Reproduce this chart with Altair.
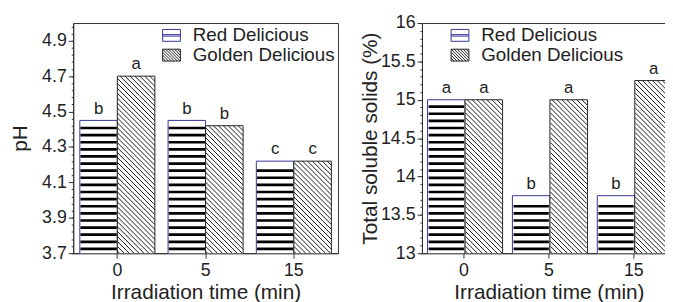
import altair as alt
import pandas as pd

# ---------------- data ----------------
times = ["0", "5", "15"]
varieties = ["Red Delicious", "Golden Delicious"]

ph_red = [4.45, 4.45, 4.22]
ph_golden = [4.70, 4.42, 4.22]
ph_red_letters = ["b", "b", "c"]
ph_golden_letters = ["a", "b", "c"]

tss_red = [15.0, 13.75, 13.75]
tss_golden = [15.0, 15.0, 15.25]
tss_red_letters = ["a", "b", "b"]
tss_golden_letters = ["a", "a", "a"]

ph_ticks = [3.7, 3.9, 4.1, 4.3, 4.5, 4.7, 4.9]
tss_ticks = [13, 13.5, 14, 14.5, 15, 15.5, 16]

# ---------------- style ----------------
FONT = "Liberation Sans"
TXT = "#222222"
AX = "#333333"
NAVY = "#34349c"
GOLD_STROKE = "#222222"
PLOT_H = 233
PAGE_W, PAGE_H = 665, 294
PAD_L, PAD_T = 66, 12


def stripe_path(w, h, P=7.2, T=2.7, A=3.0):
    """horizontal black stripes, path in pixels around the bar centre"""
    x0, x1 = -w / 2 + 0.6, w / 2 - 0.6
    parts = []
    d = A
    while d + T < h - 2.5:
        yb = h / 2 - d
        yt = yb - T
        parts.append(f"M{x0:.2f},{yt:.2f}H{x1:.2f}V{yb:.2f}H{x0:.2f}Z")
        d += P
    return "".join(parts) or "M0,0"


def hatch_path(w, h, p=5.0, phase=2.0):
    """diagonal '\\' hatch lines, path in pixels around the bar centre"""
    hw, hh = w / 2, h / 2
    parts = []
    c = -hw - hh + phase
    while c < hw + hh:
        xa = max(-hw, c - hh)
        xb = min(hw, c + hh)
        if xb - xa > 0.3:
            parts.append(f"M{xa:.2f},{xa - c:.2f}L{xb:.2f},{xb - c:.2f}")
        c += p
    return "".join(parts) or "M0,0"


def legend_paths():
    red = "M-1.5,-1H1.5V1H-1.5ZM-1.5,-0.12H1.5M-1.5,0.12H1.5"
    gold = "M-1.5,-1H1.5V1H-1.5Z"
    c = -2.0
    while c < 2.5:
        xa = max(-1.5, c - 1)
        xb = min(1.5, c + 1)
        gold += f"M{xa:.3f},{xa - c:.3f}L{xb:.3f},{xb - c:.3f}"
        c += 0.5
    return [red, gold]


def panel(red, gold, red_let, gold_let, lo, hi, ytitle, majors, minor_step,
          width, pi, po, leg_x, leg_y, title_pad, label_fmt):
    df = pd.DataFrame({
        "time": times * 2,
        "variety": [varieties[0]] * 3 + [varieties[1]] * 3,
        "value": red + gold,
        "letter": red_let + gold_let,
    })
    step = width / (3 - pi + 2 * po)
    sub = step * (1 - pi) / 2

    n = int(round((hi - lo) / minor_step))
    minor_vals = [round(lo + i * minor_step, 4) for i in range(n + 1)]

    xscale = alt.Scale(paddingInner=pi, paddingOuter=po)

    x_axis = alt.Axis(title="Irradiation time (min)", labelAngle=0, tickSize=5,
                      labelPadding=4, labelFontSize=18, titleFontSize=21,
                      titlePadding=2, domainColor=AX, tickColor=AX,
                      labelColor=TXT, titleColor=TXT, titleFontWeight="normal")
    y_major = alt.Axis(title=ytitle, orient="left", values=majors, format=label_fmt,
                       tickSize=5, labelPadding=2, labelFontSize=18, titleFontSize=21,
                       titlePadding=title_pad, domainColor=AX, tickColor=AX,
                       labelColor=TXT, titleColor=TXT, titleFontWeight="normal",
                       grid=False, labelFlush=False)
    y_minor = alt.Axis(title=None, orient="left", values=minor_vals, labels=False,
                       domain=False, tickSize=2, tickColor=AX, grid=False)
    yscale = alt.Scale(domain=[lo, hi], nice=False, zero=False)
    xo = alt.XOffset("variety:N", sort=varieties,
                     scale=alt.Scale(domain=varieties, paddingInner=0, paddingOuter=0))

    base = alt.Chart(df)

    leg = alt.Legend(title=None, orient="none", legendX=leg_x, legendY=leg_y,
                     symbolSize=144, symbolStrokeWidth=1, labelFontSize=19,
                     labelFont=FONT, labelColor=TXT, labelOffset=12,
                     rowPadding=0, padding=0, symbolFillColor="white",
                     symbolOpacity=1)
    legend_layer = base.transform_filter("false").mark_point(
        filled=True, fill="white", opacity=1, strokeWidth=1, size=144
    ).encode(
        shape=alt.Shape("variety:N", sort=varieties,
                        scale=alt.Scale(domain=varieties, range=legend_paths()),
                        legend=leg),
        stroke=alt.Stroke("variety:N", sort=varieties,
                          scale=alt.Scale(domain=varieties, range=[NAVY, GOLD_STROKE]),
                          legend=leg),
    )

    bars = base.mark_bar(fill="white", strokeWidth=1, clip=True).encode(
        x=alt.X("time:N", sort=times, scale=xscale, axis=x_axis),
        xOffset=xo,
        y=alt.Y("value:Q", scale=yscale, axis=y_major),
        stroke=alt.condition(f"datum.variety == '{varieties[0]}'",
                             alt.value(NAVY), alt.value(GOLD_STROKE)),
    )

    red_paths = [stripe_path(sub, (v - lo) / (hi - lo) * PLOT_H) for v in red]
    gold_paths = [hatch_path(sub, (v - lo) / (hi - lo) * PLOT_H) for v in gold]

    stripes = base.transform_filter(
        f"datum.variety == '{varieties[0]}'"
    ).transform_calculate(mid=f"(datum.value + {lo}) / 2").mark_point(
        filled=True, strokeWidth=0, opacity=1, clip=True
    ).encode(
        x=alt.X("time:N", sort=times, scale=xscale, axis=None),
        xOffset=xo,
        y=alt.Y("mid:Q", scale=yscale, axis=None),
        shape=alt.Shape("time:N", sort=times,
                        scale=alt.Scale(domain=times, range=red_paths), legend=None),
        size=alt.value(4),
        color=alt.value("black"),
    )

    hatch = base.transform_filter(
        f"datum.variety == '{varieties[1]}'"
    ).transform_calculate(mid=f"(datum.value + {lo}) / 2").mark_point(
        filled=False, strokeWidth=1.0, opacity=1, clip=True
    ).encode(
        x=alt.X("time:N", sort=times, scale=xscale, axis=None),
        xOffset=xo,
        y=alt.Y("mid:Q", scale=yscale, axis=None),
        shape=alt.Shape("time:N", sort=times,
                        scale=alt.Scale(domain=times, range=gold_paths), legend=None),
        size=alt.value(4),
        color=alt.value("#1a1a1a"),
    )

    text = base.mark_text(baseline="bottom", dy=-3, fontSize=17,
                          font=FONT, color=TXT).encode(
        x=alt.X("time:N", sort=times, scale=xscale, axis=None),
        xOffset=xo,
        y=alt.Y("value:Q", scale=yscale, axis=y_minor),
        text="letter:N",
    )

    return alt.layer(legend_layer, bars, stripes, hatch, text).resolve_scale(
        shape="independent", stroke="independent"
    ).resolve_axis(x="independent", y="independent").properties(
        width=width, height=PLOT_H)


left = panel(ph_red, ph_golden, ph_red_letters, ph_golden_letters, 3.7, 5.0, "pH",
             ph_ticks, 0.04, 268, 0.15, 0.075, 90, 3, 11, ".1f")
right = panel(tss_red, tss_golden, tss_red_letters, tss_golden_letters, 13, 16,
              "Total soluble solids (%)", tss_ticks, 0.1, 257, 0.14, 0.066,
              29, 3, 0, "~g")

chart = alt.hconcat(left, right, spacing=20).resolve_scale(
    shape="independent", stroke="independent"
).resolve_legend(shape="independent", stroke="independent").properties(
    autosize=alt.AutoSizeParams(type="none"),
    padding={"left": PAD_L, "top": PAD_T,
             "right": PAGE_W - PAD_L, "bottom": PAGE_H - PAD_T},
).configure(font=FONT).configure_view(stroke=AX, strokeWidth=1)

chart.save("out.html", embed_options={"renderer": "svg", "actions": False})
